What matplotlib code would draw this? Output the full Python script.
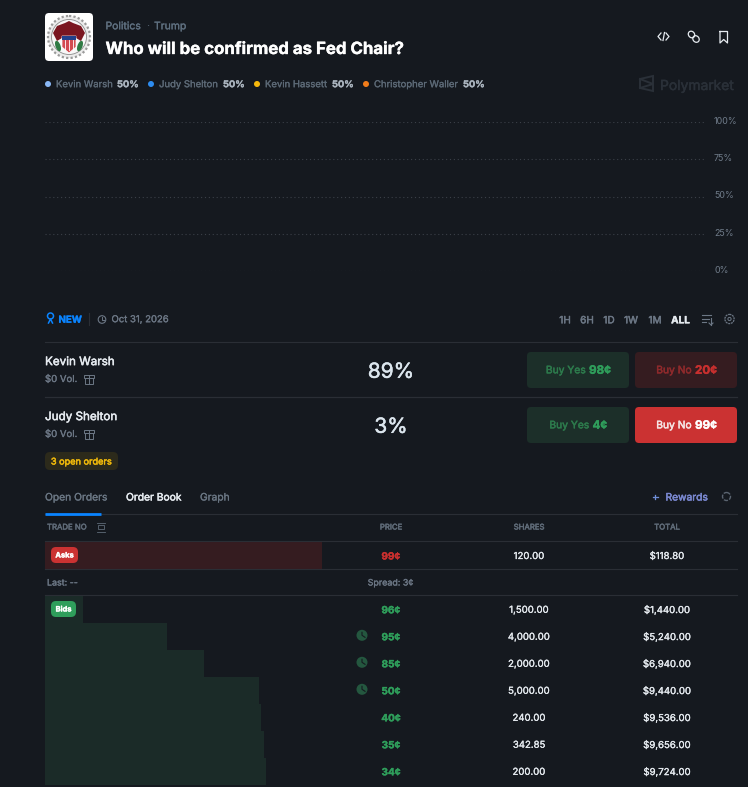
import matplotlib
matplotlib.use('Agg')
from matplotlib import pyplot as plt
from matplotlib import patheffects as pe
from matplotlib.transforms import ScaledTranslation
from matplotlib.patches import FancyBboxPatch, Circle, Ellipse, Rectangle, Polygon

plt.rcParams['font.family'] = ['Inter', 'DejaVu Sans']

# values
legend_names = ['Kevin Warsh', 'Judy Shelton', 'Kevin Hassett', 'Christopher Waller']
legend_pcts = ['50%', '50%', '50%', '50%']
legend_colors = ['#8ab8f5', '#2d8cf0', '#f5b80c', '#f07c1a']
y_ticks = [100, 75, 50, 25, 0]
ranges = ['1H', '6H', '1D', '1W', '1M', 'ALL']

outcomes = ['Kevin Warsh', 'Judy Shelton']
outcome_pcts = ['89%', '3%']
yes_prices = ['98¢', '4¢']
no_prices = ['20¢', '99¢']

ask_prices = ['99¢']
ask_shares = ['120.00']
ask_totals = ['$118.80']
ask_depth = [100]

bid_prices = ['96¢', '95¢', '85¢', '50¢', '40¢', '35¢', '34¢']
bid_shares = ['1,500.00', '4,000.00', '2,000.00', '5,000.00', '240.00', '342.85', '200.00']
bid_totals = ['$1,440.00', '$5,240.00', '$6,940.00', '$9,440.00', '$9,536.00', '$9,656.00', '$9,724.00']
bid_depth = [13.7, 44.0, 57.5, 77.3, 78.0, 79.1, 79.8]
bid_pending = [False, True, True, True, False, False, False]

BG = '#15191f'
LINE = '#2a2e35'
GREY = '#6c7785'
LIGHT = '#e6ebf0'
GREEN = '#2f9e5b'
RED = '#c9302f'

W, H = 748, 787
fig = plt.figure(figsize=(W / 100, H / 100), dpi=100, facecolor=BG)


def sub_axes(x0, y0, x1, y1):
    # axes placed with pixel edges, y measured from the top
    return fig.add_axes([x0 / W, 1 - y1 / H, (x1 - x0) / W, (y1 - y0) / H], facecolor='none')


ax = fig.add_axes([0, 0, 1, 1], facecolor='none')
ax.set_xlim(0, W)
ax.set_ylim(H, 0)
ax.axis('off')
ax.set_zorder(5)


def txt(x, y, s, size=7, color=GREY, weight='normal', ha='left'):
    # Inter only has a few weights here, thicken the others with a thin stroke
    stroke = {'medium': 0.2, 'semibold': 0.35, 'bold': 0.25}.get(weight)
    t = ax.text(x, y, s, fontsize=size, color=color, ha=ha, va='center_baseline',
                fontweight='bold' if weight == 'bold' else 'normal')
    if stroke:
        t.set_path_effects([pe.withStroke(linewidth=stroke, foreground=color)])


def box(x0, y0, x1, y1, color, r=4):
    ax.add_patch(FancyBboxPatch((x0 + r, y0 + r), x1 - x0 - 2 * r, y1 - y0 - 2 * r,
                                boxstyle='round,pad=%d,rounding_size=%d' % (r, r),
                                fc=color, ec='none'))


def hline(y, x0=45, x1=737, color=LINE):
    ax.plot([x0, x1], [y, y], color=color, lw=0.8)


# header, the seal is only sketched
box(45, 13, 93, 61, '#ffffff', r=4)
ax.add_patch(Circle((69, 37), 21, fc='#ececec', ec='#9a9a9a', lw=1.6, ls=(0, (1, 1))))
ax.add_patch(Circle((69, 37), 17.5, fc='#f7f7f7', ec='#8a8a8a', lw=0.6))
ax.add_patch(Polygon([[53, 33], [57, 26], [65, 23], [69, 21], [73, 23], [81, 26], [85, 33],
                      [81, 41], [76, 38], [69, 43], [62, 38], [57, 41]], fc='#7a1620', ec='none'))
ax.add_patch(Polygon([[62, 36], [76, 36], [76, 47], [69, 53], [62, 47]], fc='#d24a50', ec='#ffffff', lw=0.5))
ax.add_patch(Rectangle((62, 36), 14, 4, fc='#23408a', ec='none'))
for sx in [65, 69, 73]:
    ax.plot([sx, sx], [40, 50], color='#ffffff', lw=0.6)
ax.add_patch(Ellipse((58, 46), 5, 11, angle=-20, fc='#2f7a44', ec='none'))
ax.add_patch(Ellipse((80, 46), 5, 11, angle=20, fc='#2f7a44', ec='none'))

txt(105.5, 25.3, 'Politics', 7.5, '#5f7080', 'medium')
txt(146, 25.3, '·', 7.5, '#5f7080')
txt(154, 25.3, 'Trump', 7.5, '#5f7080', 'medium')
txt(105.5, 48, 'Who will be confirmed as Fed Chair?', 12.1, '#ffffff', 'bold')

# header icons
ax.plot([661, 658, 661], [33, 36.5, 40], color=LIGHT, lw=0.9)
ax.plot([666, 669, 666], [33, 36.5, 40], color=LIGHT, lw=0.9)
ax.plot([664.5, 663], [32.5, 40.5], color=LIGHT, lw=0.9)
ax.add_patch(Ellipse((691.5, 34.5), 6, 7, angle=-40, fc='none', ec=LIGHT, lw=0.9))
ax.add_patch(Ellipse((696, 39), 6, 7, angle=-40, fc='none', ec=LIGHT, lw=0.9))
ax.plot([720, 720, 723.7, 727.5, 727.5, 720], [31.5, 43, 39.5, 43, 31.5, 31.5], color=LIGHT, lw=0.9)

# legend
legend_x = [48, 151, 257, 366]
pct_x = [117, 223, 332, 463]
for x, px, n, p, c in zip(legend_x, pct_x, legend_names, legend_pcts, legend_colors):
    ax.add_patch(Circle((x, 84), 3, fc=c, ec='none'))
    txt(x + 8, 83.7, n, 6.85, '#5c6976', 'medium')
    txt(px, 83.7, p, 6.7, '#aab4be', 'bold')

# watermark
ax.add_patch(Polygon([[640, 79], [653, 76], [653, 91], [640, 88]], fc='none', ec='#2a3038', lw=1.4))
ax.plot([640, 653, 640], [79, 84, 88], color='#2a3038', lw=1.4)
txt(660, 84.5, 'Polymarket', 10, '#2a3038', 'semibold')

# price chart, empty apart from its grid
chart = sub_axes(45, 122, 705, 271)
chart.set_xlim(0, 1)
chart.set_ylim(0, 100)
chart.set_xticks([])
chart.set_yticks(y_ticks)
chart.set_yticklabels(['%d%%' % t for t in y_ticks], fontsize=6.4, color='#707c8a')
chart.yaxis.tick_right()
chart.tick_params(axis='y', length=0, pad=6.5)
chart.grid(axis='y', color='#3b4048', lw=0.8, ls=(0, (1, 2.5)))
for s in chart.spines.values():
    s.set_visible(False)
for lab in chart.get_yticklabels():
    lab.set_transform(lab.get_transform() + ScaledTranslation(0, 1.5 / 100, fig.dpi_scale_trans))

# time row
ax.add_patch(Circle((50.5, 316), 3, fc='none', ec='#0a84ff', lw=1.1))
ax.plot([48.5, 50.5, 52.5], [323, 319, 323], color='#0a84ff', lw=1.1)
txt(58.5, 318.7, 'NEW', 7, '#0a84ff', 'bold')
ax.plot([89, 89], [313, 325], color=LINE, lw=0.8)
ax.add_patch(Circle((102, 319.5), 3.8, fc='none', ec=GREY, lw=0.8))
ax.plot([102, 102, 104], [317, 320, 320], color=GREY, lw=0.7)
txt(111.5, 318.7, 'Oct 31, 2026', 6.85, GREY, 'medium')
for x, r in zip([565, 587, 609, 631, 655, 680.5], ranges):
    c, w = ('#e6ebf0', 'bold') if r == 'ALL' else (GREY, 'semibold')
    txt(x, 319.3, r, 7.2, c, w, 'center')
for y, x1 in [(315, 711), (318.5, 709), (322, 706)]:
    ax.plot([702, x1], [y, y], color=GREY, lw=0.8)
ax.plot([711, 711], [318, 325], color=GREY, lw=0.8)
ax.plot([709, 711, 713], [323, 325, 323], color=GREY, lw=0.8)
ax.add_patch(Circle((729.5, 319), 4.6, fc='none', ec=GREY, lw=0.9, ls=(0, (1.6, 0.6))))
ax.add_patch(Circle((729.5, 319), 1.6, fc='none', ec=GREY, lw=0.7))

# outcome rows
yes_x = [589, 592.5]
no_x = [695, 695]
for i, (name, pct, yes, no) in enumerate(zip(outcomes, outcome_pcts, yes_prices, no_prices)):
    y = 55 * i
    hline(342 + y)
    txt(45, 360.6 + y, name, 8.4, LIGHT, 'semibold')
    txt(45, 378.5 + y, '$0 Vol.', 6.9, GREY, 'medium')
    ax.add_patch(Rectangle((84.5, 374.5 + y), 10, 3, fc='none', ec=GREY, lw=0.7))
    ax.add_patch(Rectangle((85.5, 377.5 + y), 8, 6, fc='none', ec=GREY, lw=0.7))
    ax.plot([89.5, 89.5], [374.5 + y, 383.5 + y], color=GREY, lw=0.7)
    txt(391, 369.8 + y, pct, 15, '#dce6ee', 'semibold', 'center')
    box(527, 352 + y, 629, 388 + y, '#1c2f29')
    box(635, 352 + y, 737, 388 + y, '#351c20' if i == 0 else '#cb3232')
    txt(yes_x[i] - 3.5, 369.3 + y, 'Buy Yes', 7.4, '#2d7a4c', 'semibold', 'right')
    txt(yes_x[i], 369.3 + y, yes, 8.4, GREEN, 'bold')
    no_col = '#8f2a2c' if i == 0 else '#f5e4e4'
    txt(no_x[i] - 3.5, 369.3 + y, 'Buy No', 7.4, no_col, 'semibold', 'right')
    txt(no_x[i], 369.3 + y, no, 8.4, RED if i == 0 else '#ffffff', 'bold')
hline(397)

box(45, 452, 118, 470, '#2c2a1b', r=5)
txt(81.5, 461, '3 open orders', 6.6, '#f0b90b', 'semibold', 'center')

# tabs
txt(45, 496.5, 'Open Orders', 7.4, '#6a7683', 'medium')
txt(126, 496.5, 'Order Book', 7.4, LIGHT, 'semibold')
txt(200, 496.5, 'Graph', 7.4, '#6a7683', 'medium')
txt(652, 496.5, '+', 8.5, '#6f8fd8', 'medium')
txt(665.5, 496.5, 'Rewards', 7.4, '#7a88d0', 'semibold')
ax.add_patch(Circle((726.5, 496.5), 4, fc='none', ec='#5a6470', lw=1, ls=(0, (3, 1))))
hline(514)
ax.plot([45, 101], [514, 514], color='#0a84ff', lw=2, solid_capstyle='butt')

# order book header
txt(47, 527, 'TRADE NO', 5.6, '#5f6b78', 'semibold')
ax.add_patch(Rectangle((98, 525), 6, 4, fc='none', ec='#5f6b78', lw=0.6))
ax.plot([97, 105], [522.5, 522.5], color='#5f6b78', lw=0.6)
ax.plot([97, 105], [531.5, 531.5], color='#5f6b78', lw=0.6)
price_x, shares_x, total_x = 391, 529, 667
txt(price_x, 527, 'PRICE', 5.6, '#5f6b78', 'semibold', 'center')
txt(shares_x, 527, 'SHARES', 5.6, '#5f6b78', 'semibold', 'center')
txt(total_x, 527, 'TOTAL', 5.6, '#5f6b78', 'semibold', 'center')
hline(541)
hline(569)
hline(595)

# depth bars
asks = sub_axes(45, 542, 322, 569)
asks.barh(range(len(ask_depth)), ask_depth, height=1, color='#351c20')
asks.set_xlim(0, 100)
asks.set_ylim(0.5, -0.5)
asks.axis('off')

bids = sub_axes(45, 596, 322, 785)
bids.barh(range(len(bid_depth)), bid_depth, height=1, color='#1b2b28')
bids.set_xlim(0, 100)
bids.set_ylim(len(bid_depth) - 0.5, -0.5)
bids.axis('off')

# ask rows
box(51, 547, 78, 563, '#cb3232', r=5)
txt(64.5, 555, 'Asks', 5.4, '#ffffff', 'bold', 'center')
for p, s, t in zip(ask_prices, ask_shares, ask_totals):
    txt(price_x, 555.5, p, 7.2, RED, 'bold', 'center')
    txt(shares_x, 555.5, s, 6.9, LIGHT, 'medium', 'center')
    txt(total_x, 555.5, t, 6.9, LIGHT, 'medium', 'center')

txt(47, 582, 'Last: --', 6.4, GREY, 'medium')
txt(390.5, 582, 'Spread: 3¢', 6.4, GREY, 'medium', 'center')

# bid rows
box(51, 601, 76, 617, '#2f9e5b', r=5)
txt(63.5, 609, 'Bids', 5.4, '#ffffff', 'bold', 'center')
for i, (p, s, t, pend) in enumerate(zip(bid_prices, bid_shares, bid_totals, bid_pending)):
    y = 609.3 + 27 * i
    txt(price_x, y, p, 7.2, GREEN, 'bold', 'center')
    txt(shares_x, y, s, 6.9, LIGHT, 'medium', 'center')
    txt(total_x, y, t, 6.9, LIGHT, 'medium', 'center')
    if pend:
        ax.add_patch(Circle((362, y - 1), 5.5, fc='#24573f', ec='none'))
        ax.plot([362, 362, 365], [y - 4, y - 1, y + 1], color=BG, lw=0.8)

fig.savefig('out.png', dpi=100, facecolor=BG)
